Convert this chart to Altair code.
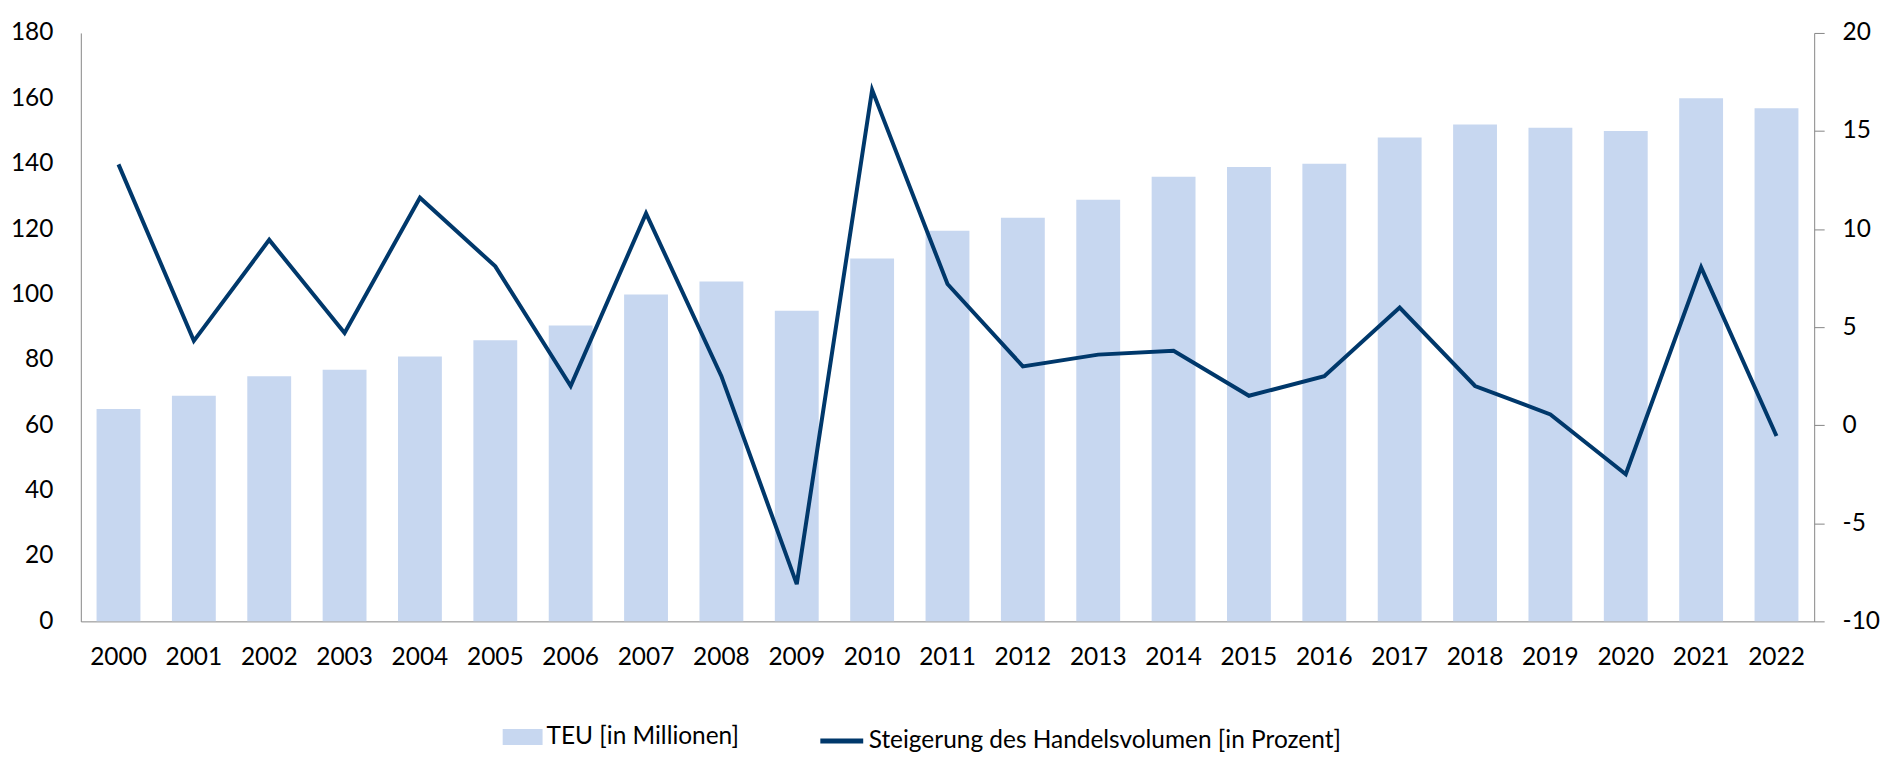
import altair as alt
import pandas as pd

years = [str(y) for y in range(2000, 2023)]
teu = [65, 69, 75, 77, 81, 86, 90.5, 100, 104, 95, 111, 119.5, 123.5, 129,
       136, 139, 140, 148, 152, 151, 150, 160, 157]
growth = [13.3, 4.3, 9.45, 4.7, 11.6, 8.1, 2.0, 10.8, 2.5, -8.1, 17.1, 7.2,
          3.0, 3.6, 3.8, 1.5, 2.5, 6.0, 2.0, 0.55, -2.5, 8.05, -0.55]

bar_name = "TEU [in Millionen]"
line_name = "Steigerung des Handelsvolumen [in Prozent]"

df = pd.DataFrame({"Jahr": years, "TEU": teu, "Wachstum": growth,
                   "bar_s": bar_name, "line_s": line_name})

FONT = "Lato"
FS = 24.5
AX = "#868686"

x = alt.X("Jahr:N", sort=years, title=None,
          scale=alt.Scale(paddingInner=0.418, paddingOuter=0.209),
          axis=alt.Axis(labelAngle=0, labelPadding=24, tickSize=0,
                        domainColor=AX, labelFont=FONT, labelFontSize=FS,
                        labelColor="black"))

bars = alt.Chart(df).mark_bar(color="#C7D7F0").encode(
    x=x,
    y=alt.Y("TEU:Q", title=None,
            scale=alt.Scale(domain=[0, 180], nice=False),
            axis=alt.Axis(orient="left", values=list(range(0, 181, 20)),
                          tickSize=0, labelPadding=28, domainColor=AX,
                          grid=False, labelFont=FONT, labelFontSize=FS,
                          labelColor="black")),
    fill=alt.Fill("bar_s:N", title=None,
                  scale=alt.Scale(domain=[bar_name], range=["#C7D7F0"]),
                  legend=alt.Legend(orient="none", legendX=423, legendY=686,
                                    symbolType="M-1,-0.4H1V0.4H-1Z",
                                    symbolSize=1600, symbolStrokeWidth=0,
                                    labelOffset=4, padding=0)),
)

line = alt.Chart(df).mark_line(color="#00386B", strokeWidth=4).encode(
    x=x,
    y=alt.Y("Wachstum:Q", title=None,
            scale=alt.Scale(domain=[-10, 20], nice=False),
            axis=alt.Axis(orient="right", values=list(range(-10, 21, 5)),
                          labelExpr="datum.value < 0 ? '-' + abs(datum.value) : '' + datum.value",
                          tickSize=10, tickColor=AX, labelPadding=18,
                          domainColor=AX, grid=False, labelFont=FONT,
                          labelFontSize=FS, labelColor="black")),
    stroke=alt.Stroke("line_s:N", title=None,
                      scale=alt.Scale(domain=[line_name], range=["#00386B"]),
                      legend=alt.Legend(orient="none", legendX=739, legendY=686,
                                        symbolType="stroke", symbolSize=1849,
                                        symbolStrokeWidth=5, labelOffset=3,
                                        padding=0)),
)

chart = alt.layer(bars, line).resolve_scale(
    y="independent", fill="independent", stroke="independent"
).properties(
    width=1738, height=590,
    autosize=alt.AutoSizeParams(type="none"),
    padding={"left": 73, "top": 24, "right": 66, "bottom": 140},
).configure_view(stroke=None).configure_legend(
    labelFont=FONT, labelFontSize=FS, labelColor="black", labelLimit=0
)

chart.save("out.html", embed_options={"renderer": "svg", "actions": False})
